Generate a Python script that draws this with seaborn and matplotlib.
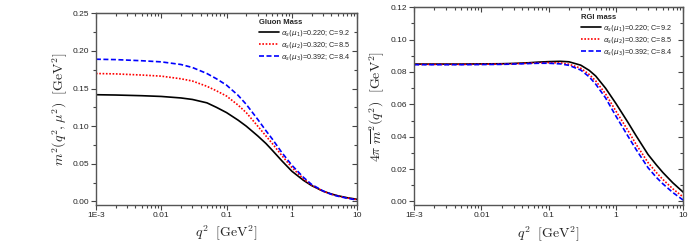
import numpy as np
import pandas as pd
import matplotlib
matplotlib.use("Agg")
import matplotlib.pyplot as plt
import matplotlib.ticker as mticker
import seaborn as sns

# q^2 grid [GeV^2] shared by all curves
q2 = [0.001, 0.002, 0.005, 0.01, 0.02, 0.03, 0.05, 0.07, 0.1, 0.15, 0.2, 0.3,
      0.4, 0.5, 0.7, 1, 1.5, 2, 3, 4, 5, 7, 10]

labels = [r"$\alpha_s(\mu_1)$=0.220; C=9.2",
          r"$\alpha_s(\mu_2)$=0.320; C=8.5",
          r"$\alpha_s(\mu_3)$=0.392; C=8.4"]

# gluon mass m^2(q^2, mu^2)
gluon_1 = [0.1418, 0.1414, 0.1405, 0.1395, 0.1375, 0.1355, 0.131, 0.125, 0.118, 0.108,
           0.100, 0.087, 0.077, 0.068, 0.054, 0.040, 0.028, 0.021, 0.0135, 0.0098,
           0.0075, 0.0048, 0.0027]
gluon_2 = [0.1700, 0.1695, 0.168, 0.1665, 0.163, 0.160, 0.153, 0.147, 0.140, 0.128,
           0.118, 0.100, 0.087, 0.077, 0.061, 0.045, 0.030, 0.0215, 0.0135, 0.0095,
           0.0072, 0.0045, 0.0022]
gluon_3 = [0.1890, 0.1885, 0.187, 0.1855, 0.182, 0.178, 0.170, 0.163, 0.1545, 0.141,
           0.129, 0.109, 0.094, 0.083, 0.065, 0.048, 0.032, 0.0225, 0.0138, 0.0094,
           0.0069, 0.0041, 0.0018]

# RGI mass 4 pi mbar^2(q^2)
rgi_1 = [0.0849, 0.0849, 0.0849, 0.0850, 0.0851, 0.0853, 0.0857, 0.0861, 0.0864, 0.0866,
         0.0863, 0.0842, 0.0810, 0.0775, 0.0700, 0.0605, 0.0490, 0.0405, 0.0290, 0.0225,
         0.0178, 0.0115, 0.0057]
rgi_2 = [0.0847, 0.0847, 0.0847, 0.0848, 0.0849, 0.0851, 0.0854, 0.0857, 0.0858, 0.0856,
         0.0848, 0.0823, 0.0785, 0.0745, 0.0665, 0.0558, 0.0440, 0.0352, 0.0240, 0.0178,
         0.0135, 0.0078, 0.0027]
rgi_3 = [0.0845, 0.0845, 0.0845, 0.0846, 0.0847, 0.0849, 0.0852, 0.0854, 0.0854, 0.0850,
         0.0841, 0.0812, 0.0770, 0.0725, 0.0640, 0.0527, 0.0405, 0.0320, 0.0208, 0.0148,
         0.0108, 0.0055, 0.0008]

colors = ["black", "red", "blue"]
styles = ["-", (0, (1, 1)), (0, (3, 1.5))]

sns.set_style("ticks")
plt.rcParams["font.family"] = ["Liberation Sans", "DejaVu Sans"]
plt.rcParams["mathtext.fontset"] = "cm"

fig = plt.figure(figsize=(6.95, 2.43), dpi=100)
ax1 = fig.add_axes([0.138, 0.156, 0.376, 0.789])
ax2 = fig.add_axes([0.596, 0.156, 0.387, 0.814])

xmajor = [0.001, 0.01, 0.1, 1, 10]
tick_color = "#444444"


def set_xticks(axis):
    axis.set_major_locator(mticker.FixedLocator(xmajor))
    axis.set_minor_locator(mticker.LogLocator(base=10, subs=np.arange(2, 10), numticks=20))
    axis.set_minor_formatter(mticker.NullFormatter())


def set_yticks(axis, ymajor):
    axis.set_major_locator(mticker.MultipleLocator(ymajor))
    axis.set_minor_locator(mticker.MultipleLocator(ymajor / 2))


def style_ticks(ax, direction):
    ax.tick_params(which="both", direction=direction, color=tick_color, width=0.8)
    ax.tick_params(which="major", length=3.5)
    ax.tick_params(which="minor", length=2)


def draw(ax, series, title, ylim, ymajor, ylabel, legend_xy):
    for ys, lab, c, ls in zip(series, labels, colors, styles):
        df = pd.DataFrame({"q2": q2, "m": ys})
        sns.lineplot(data=df, x="q2", y="m", ax=ax, color=c, linestyle=ls,
                     linewidth=1.2, label=lab)
    ax.set_xscale("log")
    ax.set_xlim(0.001, 10)
    ax.set_ylim(*ylim)
    set_xticks(ax.xaxis)
    set_yticks(ax.yaxis, ymajor)
    ax.xaxis.set_major_formatter(mticker.FixedFormatter(["1E-3", "0.01", "0.1", "1", "10"]))
    ax.yaxis.set_major_formatter(mticker.FormatStrFormatter("%.2f"))
    style_ticks(ax, "out")
    ax.tick_params(labelsize=6, pad=1.5)
    for side in ["top", "right", "left", "bottom"]:
        ax.spines[side].set_visible(True)
        ax.spines[side].set_color("#555555")
        ax.spines[side].set_linewidth(1.0)

    # mirrored axes with inward ticks
    top = ax.secondary_xaxis("top")
    right = ax.secondary_yaxis("right")
    set_xticks(top.xaxis)
    set_yticks(right.yaxis, ymajor)
    style_ticks(top, "in")
    style_ticks(right, "in")
    top.xaxis.set_major_formatter(mticker.NullFormatter())
    right.yaxis.set_major_formatter(mticker.NullFormatter())
    top.spines["top"].set_color("#555555")
    right.spines["right"].set_color("#555555")

    ax.set_xlabel(r"$q^2\ \ [\mathrm{GeV}^2]$", fontsize=10)
    ax.set_ylabel(ylabel, fontsize=10)
    leg = ax.legend(loc="upper left", bbox_to_anchor=legend_xy, frameon=False,
                    fontsize=5.2, title=title,
                    title_fontproperties={"weight": "bold", "size": 5.5},
                    alignment="left", handlelength=2.8, handletextpad=0.2,
                    labelspacing=0.28, borderaxespad=0, borderpad=0)
    for t in leg.get_texts():
        t.set_math_fontfamily("dejavusans")


draw(ax1, [gluon_1, gluon_2, gluon_3], "Gluon Mass", (-0.005, 0.25), 0.05,
     r"$m^2(q^2,\mu^2)\ \ [\mathrm{GeV}^2]$", (0.625, 0.97))
draw(ax2, [rgi_1, rgi_2, rgi_3], "RGI mass", (-0.0023, 0.12), 0.02,
     r"$4\pi\ \overline{m}^2(q^2)\ \ [\mathrm{GeV}^2]$", (0.62, 0.965))

ax1.yaxis.set_label_coords(-0.1, 0.5)
ax2.yaxis.set_label_coords(-0.1, 0.5)
ax1.xaxis.set_label_coords(0.5, -0.1)
ax2.xaxis.set_label_coords(0.5, -0.1)

fig.savefig("out.png", dpi=100)
